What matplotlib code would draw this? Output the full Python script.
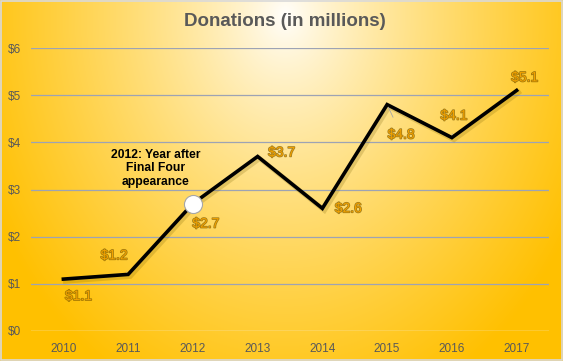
import numpy as np
import matplotlib.pyplot as plt
import matplotlib.patheffects as pe
from matplotlib.colors import to_rgb

years = ['2010', '2011', '2012', '2013', '2014', '2015', '2016', '2017']
donations = [1.1, 1.2, 2.7, 3.7, 2.6, 4.8, 4.1, 5.1]
labels = ['$1.1', '$1.2', '$2.7', '$3.7', '$2.6', '$4.8', '$4.1', '$5.1']
y_ticks = [0, 1, 2, 3, 4, 5, 6]
y_ticklabels = ['$0', '$1', '$2', '$3', '$4', '$5', '$6']

# label offsets in pixels from each point, and whether a leader line is drawn
offsets = [(15, -17), (-14, 19), (13, -20), (24, 4), (26, 0), (14, -30), (2, 22), (8, 13)]
leaders = [False, True, True, False, False, True, True, False]

plt.rcParams['font.family'] = ['Liberation Sans', 'DejaVu Sans']

W, H = 563, 361
fig = plt.figure(figsize=(W / 100, H / 100), dpi=100)

# radial gradient background
bg = fig.add_axes([0, 0, 1, 1], zorder=-10)
xx, yy = np.meshgrid(np.arange(W), np.arange(H))
d = np.sqrt(((xx - 285) / 330.0) ** 2 + ((yy - 15) / 420.0) ** 2)
t = np.clip(d, 0, 1) ** 0.8
white = np.array([1.0, 1.0, 1.0])
gold = np.array(to_rgb('#FFC000'))
img = white[None, None, :] * (1 - t[..., None]) + gold[None, None, :] * t[..., None]
bg.imshow(img, aspect='auto', extent=[0, W, H, 0])
bg.set_xlim(0, W)
bg.set_ylim(H, 0)
bg.axis('off')
bg.add_patch(plt.Rectangle((0.5, 0.5), W - 1.5, H - 1.5, fill=False, ec='#D9D9D9', lw=1.2))

ax = fig.add_axes([31 / W, (H - 331) / H, (549 - 31) / W, (331 - 48) / H])
ax.patch.set_alpha(0)
x = np.arange(len(years))

ax.plot(x, donations, color='black', lw=2.6, solid_joinstyle='miter', zorder=3,
        path_effects=[pe.SimpleLineShadow(offset=(1.5, -1.5), shadow_color='#7a6000', alpha=0.22, linewidth=3.5),
                      pe.Normal()])
# white marker on the 2012 point, drawn above the leader lines
ax.plot(x[2], donations[2], 'o', ms=13, mfc='white', mec='#A6A6A6', mew=0.8, zorder=6)

for i in range(len(x)):
    ax.annotate(labels[i], (x[i], donations[i]), xytext=offsets[i], textcoords='offset pixels',
                ha='center', va='center', fontsize=10, color='#F2A200',
                path_effects=[pe.withStroke(linewidth=1.1, foreground='#7A5800', alpha=0.7)],
                arrowprops=dict(arrowstyle='-', color='#A6A6A6', lw=0.6, shrinkA=6, shrinkB=2) if leaders[i] else None,
                zorder=5)

ax.text(1.43, 3.45, '2012: Year after\nFinal Four\nappearance', ha='center', va='center',
        fontsize=8.7, fontweight='bold', color='black', linespacing=1.15)

ax.set_xlim(-0.5, 7.5)
ax.set_ylim(0, 6)
ax.set_xticks(x)
ax.set_xticklabels(years)
ax.set_yticks(y_ticks)
ax.set_yticklabels(y_ticklabels)
ax.tick_params(length=0, labelsize=8.5, labelcolor='#595959')
ax.tick_params(axis='x', pad=9)
ax.tick_params(axis='y', pad=7)
for yt in y_ticks[1:]:
    ax.axhline(yt, color='#9DA3B4', lw=0.9, zorder=1)
ax.axhline(0, color='#F2F2F2', lw=1.0, zorder=1)
for s in ax.spines.values():
    s.set_visible(False)

fig.text(285 / W, 1 - 22 / H, 'Donations (in millions)', ha='center', va='center',
         fontsize=13.5, fontweight='bold', color='#595959')

fig.savefig('out.png', dpi=100)
